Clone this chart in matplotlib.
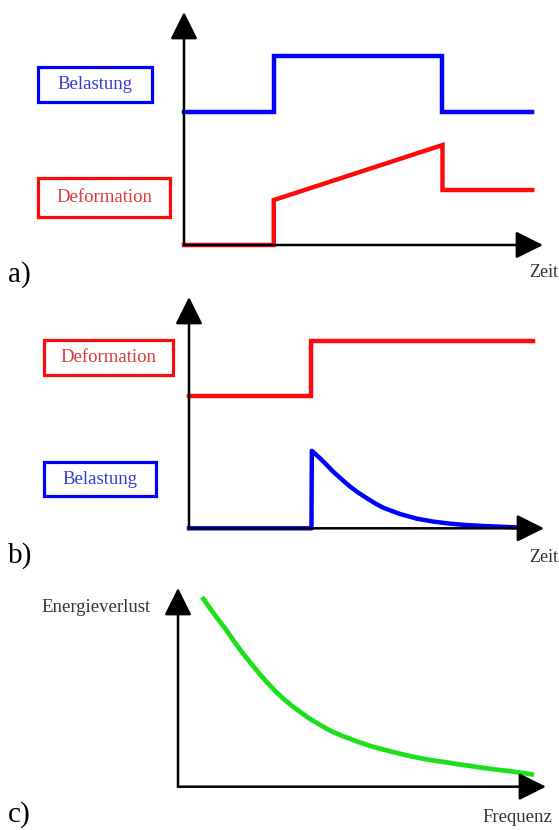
import matplotlib
matplotlib.use("Agg")
import matplotlib.pyplot as plt
from matplotlib.patches import Rectangle

# ---------------- data ----------------
# panel a: constant load step -> creep
a_load_t = [0, 2.5, 2.5, 7.2, 7.2, 9.7]
a_load = [5.7, 5.7, 8.1, 8.1, 5.7, 5.7]
a_def_t = [0, 2.5, 2.5, 7.2, 7.2, 9.7]
a_def = [0, 0, 1.93, 4.29, 2.36, 2.36]

# panel b: deformation step -> relaxation
b_def_t = [0, 3.45, 3.45, 9.68]
b_def = [5.71, 5.71, 8.1, 8.1]
b_load_t = [0, 3.45, 3.46, 3.69, 3.88, 4.06, 4.30, 4.54, 4.77, 5.01, 5.24,
            5.47, 5.94, 6.41, 6.88, 7.35, 7.82, 8.29, 8.76, 9.23, 9.70]
b_load = [0, 0, 3.35, 3.03, 2.74, 2.45, 2.12, 1.80, 1.54, 1.30, 1.08,
          0.89, 0.62, 0.42, 0.29, 0.20, 0.14, 0.10, 0.07, 0.04, 0.03]

# panel c: energy loss vs frequency
c_freq = [0.69, 0.915, 1.05, 1.28, 1.50, 1.73, 1.96, 2.18, 2.41, 2.64, 2.86,
          3.09, 3.32, 3.54, 3.77, 3.99, 4.22, 4.45, 4.90, 5.35, 5.81, 6.26,
          6.71, 7.17, 7.62, 8.07, 8.52, 8.98, 9.29, 9.61]
c_loss = [9.45, 8.86, 8.52, 7.97, 7.38, 6.79, 6.26, 5.76, 5.27, 4.82, 4.43,
          4.08, 3.76, 3.47, 3.21, 2.97, 2.75, 2.57, 2.25, 1.98, 1.76, 1.56,
          1.39, 1.26, 1.13, 1.01, 0.89, 0.79, 0.71, 0.62]

panel_letters = ["a)", "b)", "c)"]
x_labels = ["Zeit", "Zeit", "Frequenz"]
y_label_c = "Energieverlust"
lbl_load = "Belastung"
lbl_def = "Deformation"

# ---------------- figure ----------------
W, H = 559, 830
fig = plt.figure(figsize=(W / 100, H / 100), dpi=100)
fig.patch.set_facecolor("white")
SERIF = ["Liberation Serif", "DejaVu Serif"]

BLUE = "#0000ff"
RED = "#ff0a0a"
GREEN = "#1de01d"


def fx(x):
    return x / W


def fy(y):
    return 1 - y / H


def make_axes(left, right, bottom, top):
    ax = fig.add_axes([fx(left), fy(bottom), (right - left) / W, (bottom - top) / H])
    ax.set_xlim(0, 10)
    ax.set_ylim(0, 10)
    ax.axis("off")
    for xy in [(1, 0), (0, 1)]:
        ax.annotate("", xy=xy, xycoords="axes fraction", xytext=(0, 0),
                    textcoords="axes fraction",
                    arrowprops=dict(arrowstyle="-|>,head_length=1.2,head_width=0.6",
                                    mutation_scale=14, lw=1.8, color="black",
                                    shrinkA=0, shrinkB=0),
                    zorder=5)
    return ax


def box_label(cx, cy, w, h, text, col, tcol):
    fig.patches.append(Rectangle((fx(cx - w / 2), fy(cy + h / 2)), w / W, h / H,
                                 transform=fig.transFigure, fill=False,
                                 edgecolor=col, lw=2.3))
    fig.text(fx(cx), fy(cy), text, color=tcol, fontsize=13.5, family=SERIF,
             ha="center", va="center")


line_kw = dict(lw=3.2, clip_on=False, zorder=4, solid_joinstyle="miter")

# panel a
ax_a = make_axes(184, 543, 245, 12)
ax_a.plot(a_load_t, a_load, color=BLUE, **line_kw)
ax_a.plot(a_def_t, a_def, color=RED, **line_kw)
box_label(95, 84.5, 114, 35, lbl_load, BLUE, "#3a3ad0")
box_label(104, 197.5, 132, 39, lbl_def, RED, "#dc3a3a")

# panel b
ax_b = make_axes(189, 544, 528.3, 297)
ax_b.plot(b_def_t, b_def, color=RED, **line_kw)
ax_b.plot(b_load_t, b_load, color=BLUE, lw=3.2, clip_on=False, zorder=4,
          solid_joinstyle="round")
box_label(108.5, 357.5, 130, 35, lbl_def, RED, "#dc3a3a")
box_label(99.5, 479, 112, 34, lbl_load, BLUE, "#3a3ad0")

# panel c
ax_c = make_axes(178, 546, 786.7, 588)
ax_c.plot(c_freq, c_loss, color=GREEN, lw=3.4, clip_on=False, zorder=4,
          solid_joinstyle="round")

# texts
for (x, y), t in zip([(8, 282), (8, 563), (8, 822)], panel_letters):
    fig.text(fx(x), fy(y), t, fontsize=21, family=SERIF, ha="left",
             va="baseline", color="black")
for (x, y), t, s in zip([(529, 277), (529, 562), (482, 822)], x_labels,
                        [13, 13, 13.5]):
    fig.text(fx(x), fy(y), t, fontsize=s, family=SERIF, ha="left",
             va="baseline", color="#333333")
fig.text(fx(41), fy(612), y_label_c, fontsize=13.5, family=SERIF, ha="left",
         va="baseline", color="#333333")

fig.savefig("out.png", dpi=100, facecolor="white")
